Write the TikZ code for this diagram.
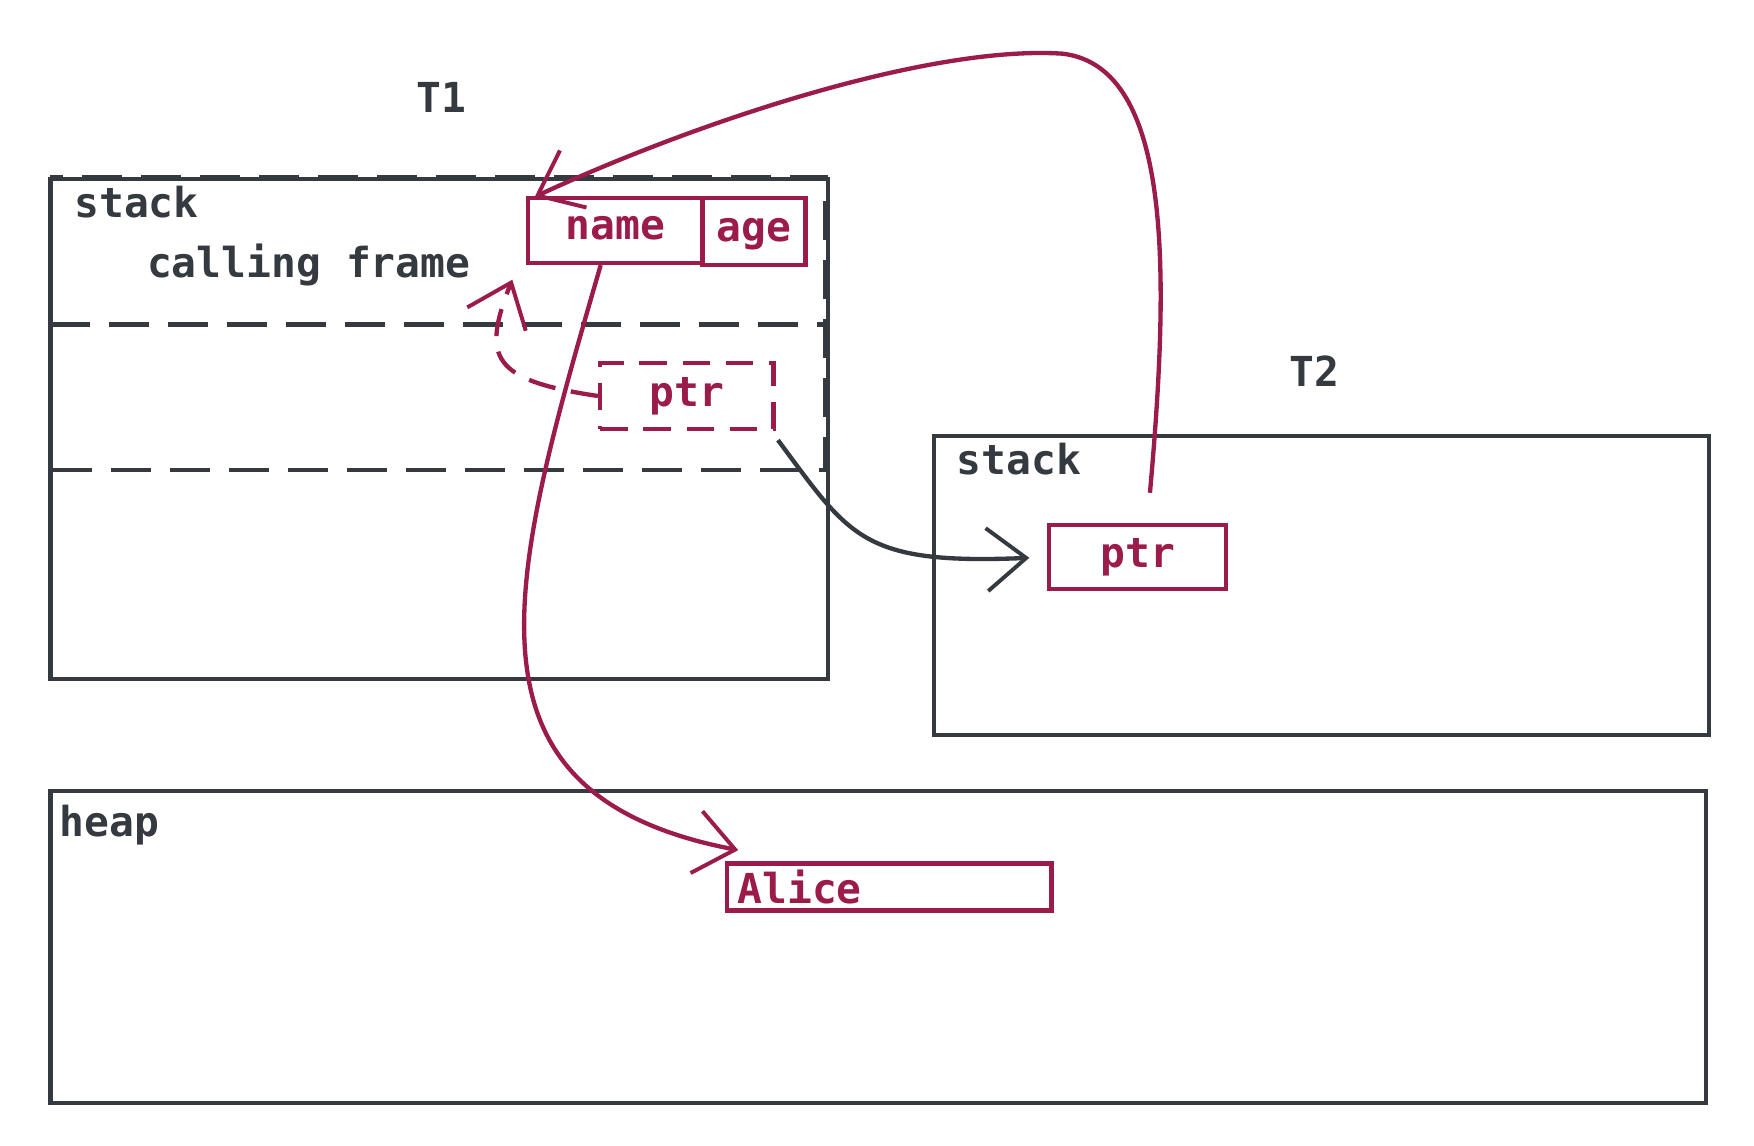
\documentclass[tikz,border=0pt]{standalone}
\usepackage{fontspec}
\setmonofont{DejaVu Sans Mono}
\usetikzlibrary{arrows.meta}
\definecolor{rd}{HTML}{9B1B4B}
\definecolor{dk}{HTML}{343A40}
\begin{document}
\begin{tikzpicture}[x=0.01cm,y=-0.01cm,
  box/.style={draw=dk,line width=1.1pt},
  rbox/.style={draw=rd,line width=1.1pt,inner sep=0pt},
  lbl/.style={font=\ttfamily\fontsize{10.5}{12}\selectfont\bfseries,text=dk},
  rl/.style={font=\ttfamily\fontsize{10.5}{12}\selectfont\bfseries,text=rd},
  tip/.style={-{Straight Barb[length=10pt,width=16pt,line width=1pt]}}]
\useasboundingbox (0,0) rectangle (1568,1024);
% T1
\node[lbl] (t1) at (395,87) {T1};
\draw[box] (45,160) rectangle (740,607);
\draw[box,dash pattern=on 10pt off 5pt] (45,158) rectangle (738,420);
\draw[box,dash pattern=on 10pt off 5pt] (45,290) -- (738,290);
\node[lbl] (s1) at (122,181) {stack};
\node[lbl] (cf) at (276,237) {calling frame};
\node[rbox,minimum width=1.56cm,minimum height=0.58cm,rl,text depth=0.25ex] (name) at (550,206) {name};
\node[rbox,minimum width=0.92cm,minimum height=0.60cm,rl,text depth=0.25ex] (age) at (674,207) {age};
\node[rbox,dash pattern=on 7pt off 4pt,minimum width=1.55cm,minimum height=0.59cm,rl] (p1) at (614,354) {ptr};
% T2
\node[lbl] (t2) at (1175,332) {T2};
\draw[box] (835,390) rectangle (1528,657);
\node[lbl] (s2) at (911,410) {stack};
\node[rbox,minimum width=1.58cm,minimum height=0.57cm,rl] (p2) at (1017,498) {ptr};
% heap
\draw[box] (45,707) rectangle (1525,986);
\node[lbl] (hp) at (98,738) {heap};
\node[rbox,minimum width=2.9cm,minimum height=0.42cm] (al) at (795,793) {};
\node[rl,anchor=west,inner sep=1pt] (alt) at ([xshift=2pt]al.west) {Alice};
% arrows
\draw[rd,line width=1.1pt,tip] (p2.north west)++(92,-27) coordinate (c1)
  .. controls (1045,250) and (1050,60) .. (950,48)
  .. controls (830,40) and (620,110) .. (478,176);
\draw[rd,line width=1.1pt,tip] (537,237) .. controls (455,520) and (400,710) .. (660,760);
\draw[rd,line width=1.1pt,dash pattern=on 7pt off 4pt,tip] (p1.west) .. controls (440,340) and (430,320) .. (458,250);
\draw[dk,line width=1.1pt,tip,shorten >=4.5pt] (p1.south east)++(2,8) .. controls (760,480) and (770,505) .. (p2.west);
\end{tikzpicture}
\end{document}
